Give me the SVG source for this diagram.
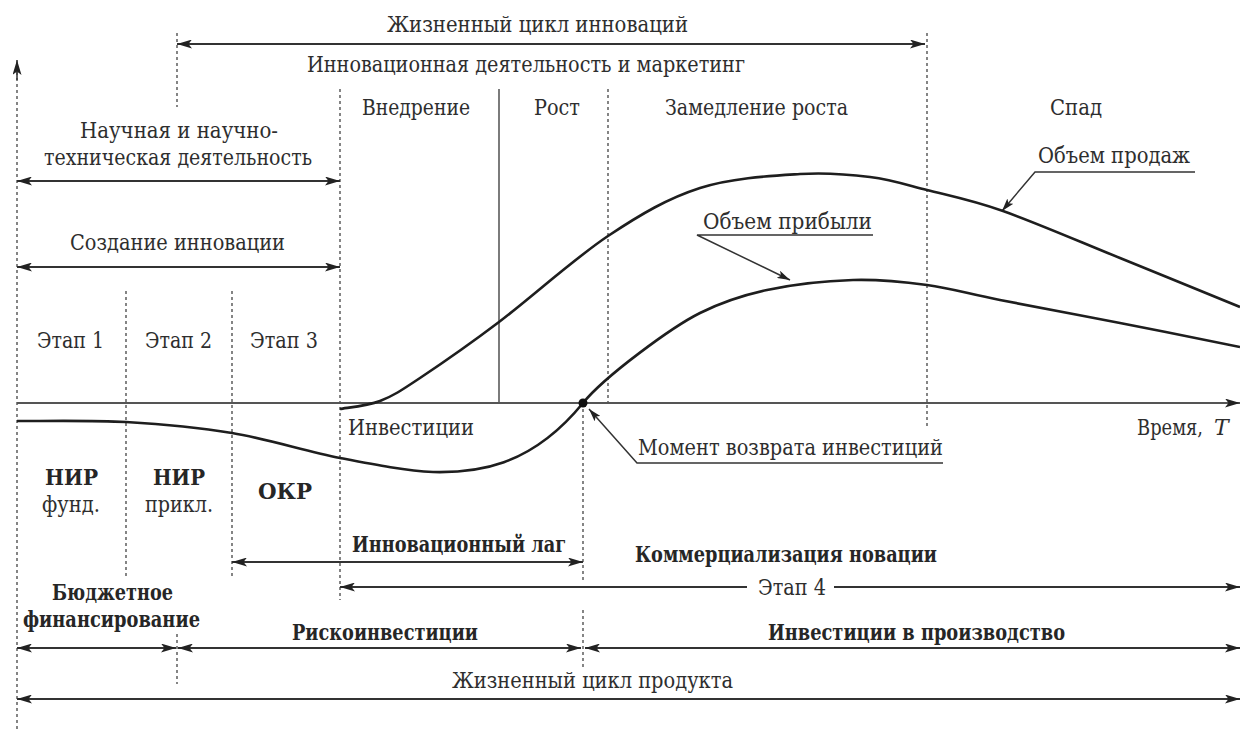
<svg xmlns="http://www.w3.org/2000/svg" width="1240" height="731" viewBox="0 0 1240 731">
<defs>
<marker id="ah" viewBox="0 0 15 9" refX="15" refY="4.5" markerWidth="15" markerHeight="9" markerUnits="userSpaceOnUse" orient="auto-start-reverse">
<path d="M0,0 L15,4.5 L0,9 L3.5,4.5 z" fill="#222"/>
</marker>
<marker id="ahs" viewBox="0 0 13 8" refX="13" refY="4" markerWidth="13" markerHeight="8" markerUnits="userSpaceOnUse" orient="auto">
<path d="M0,0 L13,4 L0,8 L3,4 z" fill="#222"/>
</marker>
</defs>
<style>
text{font-family:'DejaVu Serif',serif;font-size:22px;fill:#2e2e2e}
.b{font-weight:bold;fill:#262626}
.dot{stroke:#444;stroke-width:1.3;stroke-dasharray:3,3;fill:none}
.ar{stroke:#333;stroke-width:1.8;fill:none;marker-start:url(#ah);marker-end:url(#ah)}
.ar1{stroke:#333;stroke-width:1.8;fill:none;marker-end:url(#ah)}
.cv{stroke:#1e1e1e;stroke-width:2.6;fill:none}
.ld{stroke:#333;stroke-width:1.5;fill:none}
</style>
<rect width="1240" height="731" fill="#fff"/>

<g id="grid">
<line class="dot" x1="17" y1="66" x2="17" y2="731"/>
<line class="dot" x1="177" y1="33" x2="177" y2="107"/>
<line class="dot" x1="177" y1="634" x2="177" y2="684"/>
<line class="dot" x1="340" y1="89" x2="340" y2="600"/>
<line class="dot" x1="126" y1="291" x2="126" y2="578"/>
<line class="dot" x1="232" y1="291" x2="232" y2="578"/>
<line x1="499" y1="89" x2="499" y2="403" stroke="#444" stroke-width="1.4"/>
<line class="dot" x1="608" y1="89" x2="608" y2="403"/>
<line class="dot" x1="583" y1="403" x2="583" y2="580"/>
<line class="dot" x1="583" y1="610" x2="583" y2="668"/>
<line class="dot" x1="927" y1="33" x2="927" y2="427"/>
</g>

<g id="connectors">
<line x1="17" y1="80" x2="17" y2="60" stroke="#333" stroke-width="1.5" marker-end="url(#ah)"/>
<line x1="17" y1="403" x2="1240" y2="403" stroke="#555" stroke-width="2" marker-end="url(#ah)"/>
<line class="ar" x1="177" y1="44" x2="925" y2="44"/>
<line class="ar" x1="17" y1="181" x2="340" y2="181"/>
<line class="ar" x1="17" y1="267" x2="340" y2="267"/>
<line class="ar" x1="232" y1="562" x2="583" y2="562"/>
<line x1="340" y1="587" x2="747" y2="587" stroke="#333" stroke-width="1.8" marker-start="url(#ah)"/>
<line class="ar1" x1="834" y1="587" x2="1240" y2="587"/>
<line class="ar" x1="17" y1="648" x2="176" y2="648"/>
<line class="ar" x1="178" y1="648" x2="581" y2="648"/>
<line class="ar" x1="585" y1="648" x2="1240" y2="648"/>
<line class="ar" x1="17" y1="699" x2="1240" y2="699"/>
<polyline class="ld" points="1195,172 1035,172 1002,211" marker-end="url(#ahs)"/>
<polyline class="ld" points="873,235 697,235 790,280" marker-end="url(#ahs)"/>
<polyline class="ld" points="943,463 637,463 589,409" marker-end="url(#ahs)"/>
</g>

<g id="sales-curve">
<path class="cv" d="M340,409 C346.7,407.7 366.7,406.2 380,401 C393.3,395.8 400.2,391.2 420,378 C439.8,364.8 467.7,345.7 499,322 C530.3,298.3 574.5,258.3 608,236 C641.5,213.7 668,198.3 700,188 C732,177.7 771.7,175.8 800,174 C828.3,172.2 848.8,174.3 870,177 C891.2,179.7 904.8,184.3 927,190 C949.2,195.7 970.8,199.7 1003,211 C1035.2,222.3 1080.5,242 1120,258 C1159.5,274 1220,298.8 1240,307"/>
</g>
<g id="profit-curve">
<path class="cv" d="M17,421 C35.2,421.2 90.2,420 126,422 C161.8,424 196.3,427 232,433 C267.7,439 306.5,451.5 340,458 C373.5,464.5 406.3,471 433,472 C475,473 530,468 583,403 C605,376 672,327 700,313 C721.2,302.5 741.5,295.5 767,290 C792.5,284.5 826.3,280.8 853,280 C879.7,279.2 902.5,281.7 927,285 C951.5,288.3 967.8,293.7 1000,300 C1032.2,306.3 1080,315.2 1120,323 C1160,330.8 1220,343 1240,347"/>
<circle cx="583" cy="403" r="4.5" fill="#111"/>
</g>

<g id="label-lifecycle-innov"><text x="387" y="32" textLength="301" lengthAdjust="spacingAndGlyphs">Жизненный цикл инноваций</text></g>
<g id="label-innov-marketing"><text x="307" y="72" textLength="438" lengthAdjust="spacingAndGlyphs">Инновационная деятельность и маркетинг</text></g>
<g id="phase-intro"><text x="362" y="115" textLength="108" lengthAdjust="spacingAndGlyphs">Внедрение</text></g>
<g id="phase-growth"><text x="534" y="115" textLength="46" lengthAdjust="spacingAndGlyphs">Рост</text></g>
<g id="phase-slow"><text x="665" y="115" textLength="183" lengthAdjust="spacingAndGlyphs">Замедление роста</text></g>
<g id="phase-decline"><text x="1050" y="115" textLength="52" lengthAdjust="spacingAndGlyphs">Спад</text></g>
<g id="label-science"><text x="80" y="138" textLength="198" lengthAdjust="spacingAndGlyphs">Научная и научно-</text><text x="44" y="165" textLength="268" lengthAdjust="spacingAndGlyphs">техническая деятельность</text></g>
<g id="label-creation"><text x="70" y="250" textLength="215" lengthAdjust="spacingAndGlyphs">Создание инновации</text></g>
<g id="label-sales"><text x="1038" y="163" textLength="152" lengthAdjust="spacingAndGlyphs">Объем продаж</text></g>
<g id="label-profit"><text x="703" y="229" textLength="169" lengthAdjust="spacingAndGlyphs">Объем прибыли</text></g>
<g id="stage1"><text x="37" y="348" textLength="67" lengthAdjust="spacingAndGlyphs">Этап 1</text></g>
<g id="stage2"><text x="145" y="348" textLength="67" lengthAdjust="spacingAndGlyphs">Этап 2</text></g>
<g id="stage3"><text x="250" y="348" textLength="68" lengthAdjust="spacingAndGlyphs">Этап 3</text></g>
<g id="label-invest"><text x="348" y="435" textLength="126" lengthAdjust="spacingAndGlyphs">Инвестиции</text></g>
<g id="label-time"><text x="1137" y="435" textLength="66" lengthAdjust="spacingAndGlyphs">Время,</text><text x="1214" y="435" font-style="italic">T</text></g>
<g id="label-return"><text x="638" y="455" textLength="305" lengthAdjust="spacingAndGlyphs">Момент возврата инвестиций</text></g>
<g id="nir-fund"><text class="b" x="45" y="485" textLength="53" lengthAdjust="spacingAndGlyphs">НИР</text><text x="42" y="512" textLength="58" lengthAdjust="spacingAndGlyphs">фунд.</text></g>
<g id="nir-appl"><text class="b" x="153" y="485" textLength="52" lengthAdjust="spacingAndGlyphs">НИР</text><text x="145" y="512" textLength="68" lengthAdjust="spacingAndGlyphs">прикл.</text></g>
<g id="okr"><text class="b" x="258" y="499" textLength="54" lengthAdjust="spacingAndGlyphs">ОКР</text></g>
<g id="label-lag"><text class="b" x="352" y="552" textLength="214" lengthAdjust="spacingAndGlyphs">Инновационный лаг</text></g>
<g id="label-commerc"><text class="b" x="635" y="562" textLength="302" lengthAdjust="spacingAndGlyphs">Коммерциализация новации</text></g>
<g id="stage4"><text x="758" y="595" textLength="68" lengthAdjust="spacingAndGlyphs">Этап 4</text></g>
<g id="label-budget"><text class="b" x="52" y="600" textLength="121" lengthAdjust="spacingAndGlyphs">Бюджетное</text><text class="b" x="23" y="627" textLength="177" lengthAdjust="spacingAndGlyphs">финансирование</text></g>
<g id="label-risk"><text class="b" x="292" y="640" textLength="186" lengthAdjust="spacingAndGlyphs">Рискоинвестиции</text></g>
<g id="label-prod-invest"><text class="b" x="768" y="640" textLength="297" lengthAdjust="spacingAndGlyphs">Инвестиции в производство</text></g>
<g id="label-lifecycle-product"><text x="452" y="688" textLength="281" lengthAdjust="spacingAndGlyphs">Жизненный цикл продукта</text></g>
</svg>
